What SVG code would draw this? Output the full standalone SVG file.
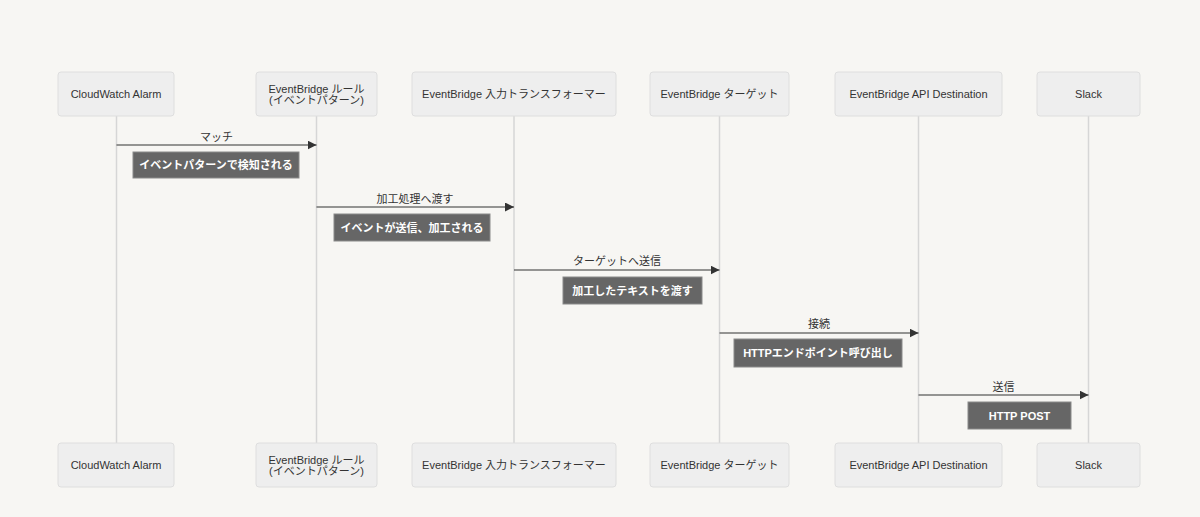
<svg xmlns="http://www.w3.org/2000/svg" width="1200" height="517" viewBox="0 0 1200 517">
<defs>
<marker id="arrow" viewBox="0 0 10 10" refX="10" refY="5" markerWidth="9" markerHeight="9" markerUnits="userSpaceOnUse" orient="auto">
<path d="M0,0 L10,5 L0,10 z" fill="#333"/>
</marker>
</defs>
<style>
.bg{fill:#f7f6f3}
.actor{fill:#eeeeee;stroke:#dedede;stroke-width:1}
.atext{font-family:"Liberation Sans","Noto Sans CJK JP",sans-serif;font-size:11px;fill:#333;text-anchor:middle;dominant-baseline:central}
.life{stroke:#d6d6d6;stroke-width:1.5}
.msg{stroke:#333;stroke-width:1.2;fill:none;marker-end:url(#arrow)}
.mtext{font-family:"Liberation Sans","Noto Sans CJK JP",sans-serif;font-size:11px;fill:#333;text-anchor:middle}
.note{fill:#666666;stroke:#8a8a8a;stroke-width:1}
.ntext{font-family:"Liberation Sans","Noto Sans CJK JP",sans-serif;font-size:11px;font-weight:bold;fill:#ffffff;text-anchor:middle;dominant-baseline:central}
</style>
<rect class="bg" x="0" y="0" width="1200" height="517"/>

<g id="lifelines">
<line class="life" x1="116.5" y1="116" x2="116.5" y2="443"/>
<line class="life" x1="316.5" y1="116" x2="316.5" y2="443"/>
<line class="life" x1="514" y1="116" x2="514" y2="443"/>
<line class="life" x1="719.5" y1="116" x2="719.5" y2="443"/>
<line class="life" x1="918.5" y1="116" x2="918.5" y2="443"/>
<line class="life" x1="1088.5" y1="116" x2="1088.5" y2="443"/>
</g>

<g id="actor-cloudwatch-top">
<rect class="actor" x="58" y="72" width="116" height="44" rx="3"/>
<text class="atext" x="116" y="94">CloudWatch Alarm</text>
</g>
<g id="actor-rule-top">
<rect class="actor" x="256" y="72" width="121" height="44" rx="3"/>
<text class="atext" x="316.5" y="89">EventBridge ルール</text>
<text class="atext" x="316.5" y="100">(イベントパターン)</text>
</g>
<g id="actor-transformer-top">
<rect class="actor" x="412" y="72" width="204" height="44" rx="3"/>
<text class="atext" x="514" y="94">EventBridge 入力トランスフォーマー</text>
</g>
<g id="actor-target-top">
<rect class="actor" x="650" y="72" width="139" height="44" rx="3"/>
<text class="atext" x="719.5" y="94">EventBridge ターゲット</text>
</g>
<g id="actor-apidest-top">
<rect class="actor" x="835" y="72" width="167" height="44" rx="3"/>
<text class="atext" x="918.5" y="94">EventBridge API Destination</text>
</g>
<g id="actor-slack-top">
<rect class="actor" x="1037" y="72" width="103" height="44" rx="3"/>
<text class="atext" x="1088.5" y="94">Slack</text>
</g>

<g id="actor-cloudwatch-bottom">
<rect class="actor" x="58" y="443" width="116" height="44" rx="3"/>
<text class="atext" x="116" y="465">CloudWatch Alarm</text>
</g>
<g id="actor-rule-bottom">
<rect class="actor" x="256" y="443" width="121" height="44" rx="3"/>
<text class="atext" x="316.5" y="460">EventBridge ルール</text>
<text class="atext" x="316.5" y="471">(イベントパターン)</text>
</g>
<g id="actor-transformer-bottom">
<rect class="actor" x="412" y="443" width="204" height="44" rx="3"/>
<text class="atext" x="514" y="465">EventBridge 入力トランスフォーマー</text>
</g>
<g id="actor-target-bottom">
<rect class="actor" x="650" y="443" width="139" height="44" rx="3"/>
<text class="atext" x="719.5" y="465">EventBridge ターゲット</text>
</g>
<g id="actor-apidest-bottom">
<rect class="actor" x="835" y="443" width="167" height="44" rx="3"/>
<text class="atext" x="918.5" y="465">EventBridge API Destination</text>
</g>
<g id="actor-slack-bottom">
<rect class="actor" x="1037" y="443" width="103" height="44" rx="3"/>
<text class="atext" x="1088.5" y="465">Slack</text>
</g>

<g id="connectors">
<line class="msg" x1="116.5" y1="145" x2="316.5" y2="145"/>
<text class="mtext" x="216.5" y="141">マッチ</text>
<line class="msg" x1="316.5" y1="207" x2="514" y2="207"/>
<text class="mtext" x="415" y="203">加工処理へ渡す</text>
<line class="msg" x1="514" y1="270" x2="719.5" y2="270"/>
<text class="mtext" x="617" y="265">ターゲットへ送信</text>
<line class="msg" x1="719.5" y1="333" x2="918.5" y2="333"/>
<text class="mtext" x="819" y="328">接続</text>
<line class="msg" x1="918.5" y1="395" x2="1088.5" y2="395"/>
<text class="mtext" x="1003.5" y="391">送信</text>
</g>

<g id="note-1">
<rect class="note" x="133" y="152" width="166" height="26"/>
<text class="ntext" x="216" y="165">イベントパターンで検知される</text>
</g>
<g id="note-2">
<rect class="note" x="334" y="214" width="156" height="27"/>
<text class="ntext" x="412" y="227.5">イベントが送信、加工される</text>
</g>
<g id="note-3">
<rect class="note" x="563" y="277" width="139" height="27"/>
<text class="ntext" x="632.5" y="290.5">加工したテキストを渡す</text>
</g>
<g id="note-4">
<rect class="note" x="734" y="339" width="168" height="28"/>
<text class="ntext" x="818" y="353">HTTPエンドポイント呼び出し</text>
</g>
<g id="note-5">
<rect class="note" x="968" y="402" width="103" height="27"/>
<text class="ntext" x="1019.5" y="415.5">HTTP POST</text>
</g>
</svg>
